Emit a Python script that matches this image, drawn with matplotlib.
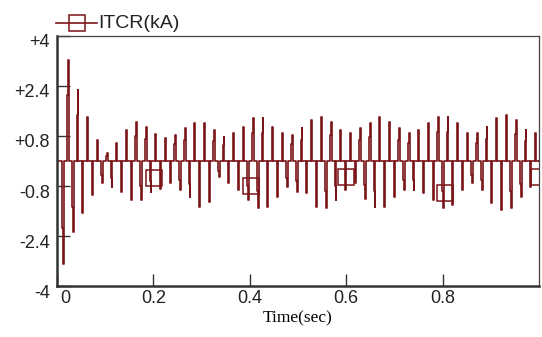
import numpy as np
import matplotlib
matplotlib.use('Agg')
import matplotlib.pyplot as plt
from matplotlib.transforms import ScaledTranslation

plt.rcParams['font.family'] = 'Liberation Sans'

# half-cycle current pulses of the TCR (kA), in time order
t_first = 0.0115      # s, first pulse
half_period = 0.0101  # s, spacing of pulses
peaks = [-3.3, 3.23, -2.27, 2.27, -1.66, 1.41, -1.09, 0.67, -0.70, 0.26,
         -0.83, 0.58, -1.00, 1.00, -1.25, 1.25, -1.25, 1.10, -1.00, 0.87,
         -0.90, 0.73, -0.71, 0.83, -0.93, 1.05, -1.14, 1.23, -1.46, 1.23,
         -1.30, 0.99, -0.50, 0.78, -0.71, 0.89, -0.93, 1.10, -1.25, 1.37,
         -1.50, 1.37, -1.46, 1.10, -1.14, 0.89, -0.82, 0.83, -0.98, 1.05,
         -1.03, 1.31, -1.46, 1.42, -1.50, 1.26, -1.25, 0.99, -0.93, 0.89,
         -0.71, 1.05, -1.20, 1.20, -1.46, 1.42, -1.46, 1.26, -1.14, 1.05,
         -0.93, 0.89, -0.93, 0.99, -1.03, 1.20, -1.25, 1.42, -1.50, 1.42,
         -1.40, 1.20, -0.93, 0.89, -0.71, 0.89, -0.93, 1.10, -1.35, 1.37,
         -1.57, 1.47, -1.50, 1.31, -1.14, 0.99, -0.82, 0.89, -0.90]

# square markers on the trace
marker_t = [0.202, 0.402, 0.600, 0.804, 1.000]
marker_v = [-0.54, -0.80, -0.51, -1.02, -0.51]

yticks = [-4, -2.4, -0.8, 0.8, 2.4, 4]
ytick_labels = ['-4', '-2.4', '-0.8', '+0.8', '+2.4', '+4']
xticks = [0, 0.2, 0.4, 0.6, 0.8]
xtick_labels = ['0', '0.2', '0.4', '0.6', '0.8']

# stepped pulse shape
d1 = 0.001
d2 = 0.0028
t = [0.0]
y = [0.0]
for k, a in enumerate(peaks):
    t0 = t_first + k * half_period
    t += [t0, t0, t0 + d1, t0 + d1, t0 + d2, t0 + d2]
    y += [0, 0.65 * a, 0.65 * a, a, a, 0]
t.append(1.0)
y.append(0.0)

col = '#7a1418'

fig = plt.figure(figsize=(5.42, 3.37), dpi=100)
ax = fig.add_axes([0.105, 0.1513, 0.8895, 0.7419])
ax.plot(t, y, color=col, linewidth=1.2)
ax.plot(marker_t, marker_v, linestyle='none', marker='s', markersize=11,
        markerfacecolor='none', markeredgecolor=col, markeredgewidth=1.1)

ax.set_xlim(0, 1.0)
ax.set_ylim(-4, 4)
ax.set_yticks(yticks)
ax.set_yticklabels(ytick_labels)
ax.set_xticks(xticks)
ax.set_xticklabels(xtick_labels)
ax.tick_params(direction='in', length=9, width=1, colors='#333333',
               labelcolor='#222222', labelsize=13)
ax.tick_params(axis='y', pad=5)
ax.tick_params(axis='x', pad=3)

for s in ['left', 'bottom']:
    ax.spines[s].set_linewidth(1.8)
    ax.spines[s].set_color('#333333')
for s in ['top', 'right']:
    ax.spines[s].set_linewidth(0.9)
    ax.spines[s].set_color('#444444')

off = ScaledTranslation(0, -5 / 100, fig.dpi_scale_trans)
for lab in ax.get_yticklabels():
    lab.set_transform(lab.get_transform() + off)
lab0 = ax.get_xticklabels()[0]
lab0.set_transform(lab0.get_transform() + ScaledTranslation(8 / 100, 0, fig.dpi_scale_trans))

ax.set_xlabel('Time(sec)', family='Liberation Serif', fontsize=12.5, labelpad=2)

# legend drawn above the axes
fig.lines.append(plt.Line2D([56 / 542, 97 / 542], [1 - 23 / 337, 1 - 23 / 337],
                            transform=fig.transFigure, color=col, linewidth=1.2))
fig.lines.append(plt.Line2D([77 / 542], [1 - 23 / 337], transform=fig.transFigure,
                            linestyle='none', marker='s', markersize=12,
                            markerfacecolor='none', markeredgecolor=col,
                            markeredgewidth=1.1))
fig.text(98 / 542, 1 - 24 / 337, 'ITCR(kA)', fontsize=14, color='#222222',
         va='center', ha='left')

fig.savefig('out.png', dpi=100)
